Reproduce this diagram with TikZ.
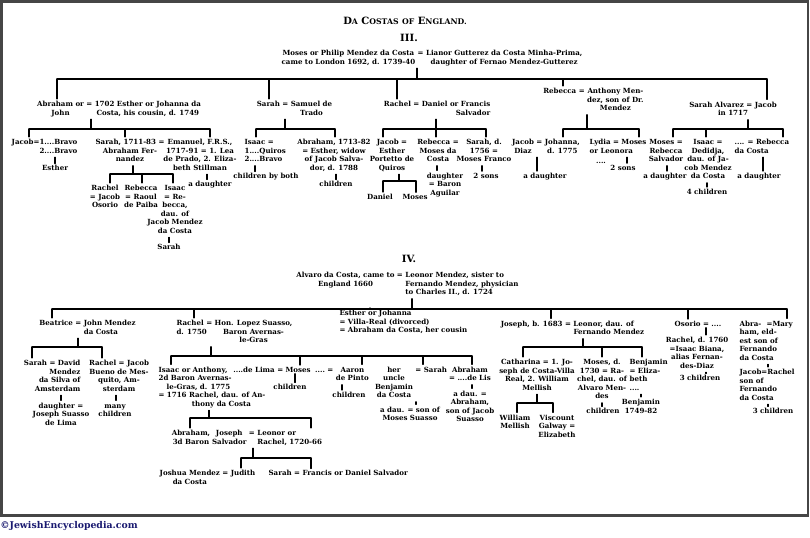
\documentclass[tikz,border=0pt]{standalone}
\usepackage{fontspec}
\setmainfont{DejaVu Serif}
\definecolor{navyc}{RGB}{25,25,112}
\definecolor{framec}{RGB}{70,70,70}
\newcommand{\fs}{\fontsize{5.3}{6.4}\selectfont\bfseries}
\newcommand{\mytab}[2]{\begin{tabular}[t]{@{}#1@{}}#2\end{tabular}}
\newcommand{\smc}[1]{{\fontsize{5.8}{7}\selectfont #1}}
\tikzset{
  t/.style={inner sep=1pt, anchor=base, font=\fs},
  ln/.style={line width=0.8pt, line cap=round, draw=black},
}
\newcommand{\myfamily}[6]{%
  \coordinate (#1-b) at (#2,#3);
  \coordinate (#1-l) at (#4,#3);
  \coordinate (#1-r) at (#5,#3);
  \draw[ln] (#1.south -| #1-b) -- (#1-b);
  \draw[ln] (#1-l) -- (#1-r);
  \foreach \cc/\xx in {#6} {\coordinate (\cc-in) at (\xx,#3); \draw[ln] (\cc-in) -- (\cc-in |- \cc.north);}
}
\newcommand{\mytick}[3]{%
  \coordinate (#1-#2-t) at (#3,0);
  \draw[ln] (#1.south -| #1-#2-t) -- (#2.north -| #1-#2-t);
}
\begin{document}
\begin{tikzpicture}[x=0.75pt,y=-0.75pt]
\useasboundingbox (0,0) rectangle (810,537);
\fill[white] (0,0) rectangle (810,537);
\draw[framec, line width=2.2pt] (1.5,1.5) rectangle (808,515.5);

% ---------- III ----------
\node[t, font=\fontsize{7.5}{9}\selectfont\bfseries] (title) at (405,24) {D\smc{A} C\smc{OSTAS} \smc{OF} E\smc{NGLAND.}};
\node[t, font=\fontsize{7.5}{9}\selectfont\bfseries] (g3) at (409,41) {III.};
\node[t] (p3) at (432,55.5) {\mytab{c@{\ }c@{\ }c}{Moses or Philip Mendez da Costa & = & Lianor Gutterez da Costa Minha-Prima,\\ came to London 1692, d. 1739-40 && daughter of Fernao Mendez-Gutterez}};

\node[t] (a3) at (119,106.5) {\mytab{c@{\ }c@{\ }c}{Abraham or & = & 1702 Esther or Johanna da\\ John && Costa, his cousin, d. 1749}};
\node[t] (b3) at (294.5,106.5) {\mytab{c@{\ }c@{\ }c}{Sarah & = & Samuel de\\ && Trado}};
\node[t] (c3) at (437,106.5) {\mytab{c@{\ }c@{\ }r}{Rachel & = & Daniel or Francis\\ && Salvador\hspace{7pt}}};
\node[t] (d3) at (593.5,93.5) {\mytab{c@{\ }c@{\ }c}{Rebecca & = & Anthony Men-\\ && dez, son of Dr.\\ && Mendez}};
\node[t] (e3) at (733,107) {\mytab{c}{Sarah Alvarez = Jacob\\ in 1717}};
\myfamily{p3}{417}{79}{57}{767}{a3/57,b3/269,c3/397,d3/563,e3/767}

% Abraham's children
\node[t, anchor=base east] (a3a) at (79,144.5) {\mytab{r}{Jacob=1....Bravo\\ 2....Bravo}};
\node[t] (a3a1) at (55,170.5) {Esther};
\mytick{a3a}{a3a1}{55}
\node[t] (a3b) at (130,144.5) {\mytab{c}{Sarah, 1711-83 =\\ Abraham Fer-\\ nandez}};
\node[t] (a3c) at (200,144.5) {\mytab{c}{Emanuel, F.R.S.,\\ 1717-91 = 1. Lea\\ de Prado, 2. Eliza-\\ beth Stillman}};
\node[t] (a3c1) at (210,186.5) {a daughter};
\mytick{a3c}{a3c1}{207}
\myfamily{a3}{91}{129}{29}{210}{a3a/29,a3b/125,a3c/210}
\node[t] (a3b1) at (105,190.5) {\mytab{c}{Rachel\\ = Jacob\\ Osorio}};
\node[t] (a3b2) at (141,190.5) {\mytab{c}{Rebecca\\ = Raoul\\ de Paiba}};
\node[t] (a3b3) at (175,190.5) {\mytab{c}{Isaac\\ = Re-\\ becca,\\ dau. of\\ Jacob Mendez\\ da Costa}};
\node[t] (a3b31) at (169,249.5) {Sarah};
\mytick{a3b3}{a3b31}{169}
\myfamily{a3b}{133}{174}{110}{173}{a3b1/110,a3b2/142,a3b3/173}

% Sarah's children
\node[t, anchor=base west] (b3a) at (243,144.5) {\mytab{l}{Isaac =\\ 1....Quiros\\ 2....Bravo}};
\node[t] (b3a1) at (266,178.5) {children by both};
\mytick{b3a}{b3a1}{255}
\node[t] (b3b) at (334,144.5) {\mytab{c}{Abraham, 1713-82\\ = Esther, widow\\ of Jacob Salva-\\ dor, d. 1788}};
\node[t] (b3b1) at (336,186.5) {children};
\mytick{b3b}{b3b1}{336}
\myfamily{b3}{285}{129}{256}{335}{b3a/256,b3b/335}

% Rachel's children
\node[t] (c3a) at (392,144.5) {\mytab{c}{Jacob =\\ Esther\\ Portetto de\\ Quiros}};
\node[t] (c3b) at (438,144.5) {\mytab{c}{Rebecca =\\ Moses da\\ Costa}};
\node[t] (c3b1) at (445,178) {\mytab{c}{daughter\\ = Baron\\ Aguilar}};
\mytick{c3b}{c3b1}{437}
\node[t] (c3c) at (484,144.5) {\mytab{c}{Sarah, d.\\ 1756 =\\ Moses Franco}};
\node[t] (c3c1) at (486,178) {2 sons};
\mytick{c3c}{c3c1}{482}
\myfamily{c3}{436}{129}{383}{486}{c3a/383,c3b/436,c3c/486}
\node[t] (c3a1) at (380,199) {Daniel};
\node[t] (c3a2) at (415,199) {Moses};
\myfamily{c3a}{399}{181}{383}{416}{c3a1/383,c3a2/416}

% Rebecca's children
\node[t] (d3a) at (546,144.5) {\mytab{c@{\ }c@{\ }c}{Jacob & = & Johanna,\\ Diaz && d. 1775}};
\node[t] (d3a1) at (545,178) {a daughter};
\mytick{d3a}{d3a1}{537}
\node[t, anchor=base west] (d3b) at (588,144.5) {\mytab{l}{Lydia = Moses\\ or Leonora}};
\node[t] (d3b1) at (601,163) {....};
\node[t] (d3b2) at (623,170) {2 sons};
\mytick{d3b}{d3b2}{627}
\myfamily{d3}{587}{129}{563}{639}{d3a/563,d3b/639}

% Sarah Alvarez's children
\node[t] (e3a) at (666,144.5) {\mytab{c}{Moses =\\ Rebecca\\ Salvador}};
\node[t] (e3a1) at (665,178) {a daughter};
\mytick{e3a}{e3a1}{667}
\node[t] (e3b) at (708,144.5) {\mytab{c}{Isaac =\\ Dedidja,\\ dau. of Ja-\\ cob Mendez\\ da Costa}};
\node[t] (e3b1) at (707,194) {4 children};
\mytick{e3b}{e3b1}{707}
\node[t, anchor=base west] (e3c) at (733,144.5) {\mytab{l}{.... = Rebecca\\ da Costa}};
\node[t] (e3c1) at (759,178) {a daughter};
\mytick{e3c}{e3c1}{763}
\myfamily{e3}{748}{129}{673}{783}{e3a/673,e3b/706,e3c/783}

% ---------- IV ----------
\node[t, font=\fontsize{7.5}{9}\selectfont\bfseries] (g4) at (409,262) {IV.};
\node[t] (p4) at (407.5,277.5) {\mytab{c@{\ }c@{\ }l}{Alvaro da Costa, came to & = & Leonor Mendez, sister to\\ England 1660 && Fernando Mendez, physician\\ && to Charles II., d. 1724}};

\node[t] (f1) at (87.5,325.5) {\mytab{c@{\ }c@{\ }l}{Beatrice & = & John Mendez\\ && da Costa}};
\node[t] (f2) at (234.5,325.5) {\mytab{l@{\ }c@{\ }c}{Rachel & = & Hon. Lopez Suasso,\\ \rlap{d. 1750} && Baron Avernas-\\ && le-Gras}};
\node[t, anchor=base west] (f3) at (338,315.5) {\mytab{l}{Esther or Johanna\\ = Villa-Real (divorced)\\ = Abraham da Costa, her cousin}};
\node[t] (f4) at (572.5,326) {\mytab{c@{\ }c@{\ }l}{Joseph, b. 1683 & = & Leonor, dau. of\\ && Fernando Mendez}};
\node[t] (f5) at (698,326) {Osorio = ....};
\node[t, anchor=base west] (f6) at (738,326) {\mytab{l}{Abra-\hspace{4pt}=Mary\\ ham, eld-\\ est son of\\ Fernando\\ da Costa}};
\myfamily{p4}{412}{309}{52}{787}{f1/52,f2/194,f3/370,f4/551,f5/688,f6/787}

% Beatrice's children
\node[t, anchor=base east] (f1a) at (82,365.5) {\mytab{r}{Sarah = David\\ Mendez\\ da Silva of\\ Amsterdam}};
\node[t] (f1a1) at (61,408) {\mytab{c}{daughter =\\ Joseph Suasso\\ de Lima}};
\mytick{f1a}{f1a1}{61}
\node[t] (f1b) at (119,365.5) {\mytab{c}{Rachel = Jacob\\ Bueno de Mes-\\ quito, Am-\\ sterdam}};
\node[t] (f1b1) at (115,408) {\mytab{c}{many\\ children}};
\mytick{f1b}{f1b1}{116}
\myfamily{f1}{78}{347}{32}{102}{f1a/32,f1b/102}

% Rachel's children
\node[t, anchor=base west] (f2a) at (157,372) {\mytab{l}{Isaac or Anthony,\\ 2d Baron Avernas-\\ \hspace{6pt}le-Gras, d. 1775\\ = 1716 Rachel, dau. of An-\\ \hspace{25pt}thony da Costa}};
\node[t] (f2b) at (272,372) {....de Lima = Moses};
\node[t] (f2b1) at (290,389.5) {children};
\mytick{f2b}{f2b1}{295}
\node[t] (f2c) at (342,372) {\mytab{c@{\ }c@{\ }c}{.... & = & Aaron\\ && de Pinto}};
\node[t] (f2c1) at (349,397) {children};
\mytick{f2c}{f2c1}{342}
\node[t] (f2d) at (411,372) {\mytab{c@{\ }c@{\ }c}{her & = & Sarah\\ uncle &&\\ Benjamin &&\\ da Costa &&}};
\node[t] (f2d1) at (410,412) {\mytab{c}{a dau. = son of\\ Moses Suasso}};
\mytick{f2d}{f2d1}{416}
\node[t] (f2e) at (470,372) {\mytab{c}{Abraham\\ = ....de Lis}};
\node[t] (f2e1) at (470,396) {\mytab{c}{a dau. =\\ Abraham,\\ son of Jacob\\ Suasso}};
\mytick{f2e}{f2e1}{472}
\myfamily{f2}{211}{356}{171}{472}{f2a/171,f2b/300,f2c/362,f2d/423,f2e/472}

\node[t] (f2a1) at (191,435.5) {\mytab{c}{Abraham,\\ 3d Baron}};
\node[t] (f2a2) at (267,435.5) {\mytab{c@{\ }c@{\ }l}{Joseph & = & Leonor or\\ Salvador && Rachel, 1720-66}};
\myfamily{f2a}{209}{418}{190}{311}{f2a1/190,f2a2/311}
\node[t] (f2a2a) at (207.5,475.5) {\mytab{c@{\ }c@{\ }c}{Joshua Mendez & = & Judith\\ da Costa &&}};
\node[t, anchor=base west] (f2a2b) at (267,475.5) {Sarah = Francis or Daniel Salvador};
\myfamily{f2a2}{253}{458}{241}{311}{f2a2a/241,f2a2b/311}

% Joseph's children
\node[t] (f4a) at (537,364.5) {\mytab{c}{Catharina = 1. Jo-\\ seph de Costa-Villa\\ Real, 2. William\\ Mellish}};
\node[t] (f4a1) at (515,420) {\mytab{c}{William\\ Mellish}};
\node[t] (f4a2) at (557,420) {\mytab{c}{Viscount\\ Galway =\\ Elizabeth}};
\myfamily{f4a}{537}{403}{517}{553}{f4a1/517,f4a2/553}
\node[t] (f4b) at (602,364.5) {\mytab{c}{Moses, d.\\ 1730 = Ra-\\ chel, dau. of\\ Alvaro Men-\\ des}};
\node[t] (f4b1) at (603,413.5) {children};
\mytick{f4b}{f4b1}{602}
\node[t, anchor=base west] (f4c) at (628,364.5) {\mytab{l}{Benjamin\\ = Eliza-\\ beth\\ ....}};
\node[t] (f4c1) at (641,404.5) {\mytab{c}{Benjamin\\ 1749-82}};
\mytick{f4c}{f4c1}{641}
\myfamily{f4}{583}{347}{523}{642}{f4a/523,f4b/602,f4c/642}

% Osorio
\node[t] (f5a) at (697,342.5) {\mytab{c}{Rachel, d. 1760\\ =Isaac Biana,\\ alias Fernan-\\ des-Diaz}};
\mytick{f5}{f5a}{706}
\node[t] (f5b) at (700,380.5) {3 children};
\mytick{f5a}{f5b}{706}

% Abraham = Mary
\node[t, anchor=base west] (f6a) at (738,374.5) {\mytab{l}{Jacob=Rachel\\ son of\\ Fernando\\ da Costa}};
\mytick{f6}{f6a}{768}
\node[t] (f6b) at (773,413.5) {3 children};
\mytick{f6a}{f6b}{768}

% footer
\node[anchor=base west, inner sep=0pt, font=\fontsize{7}{8}\selectfont\bfseries, text=navyc] (foot) at (0,528) {©JewishEncyclopedia.com};
\end{tikzpicture}
\end{document}
